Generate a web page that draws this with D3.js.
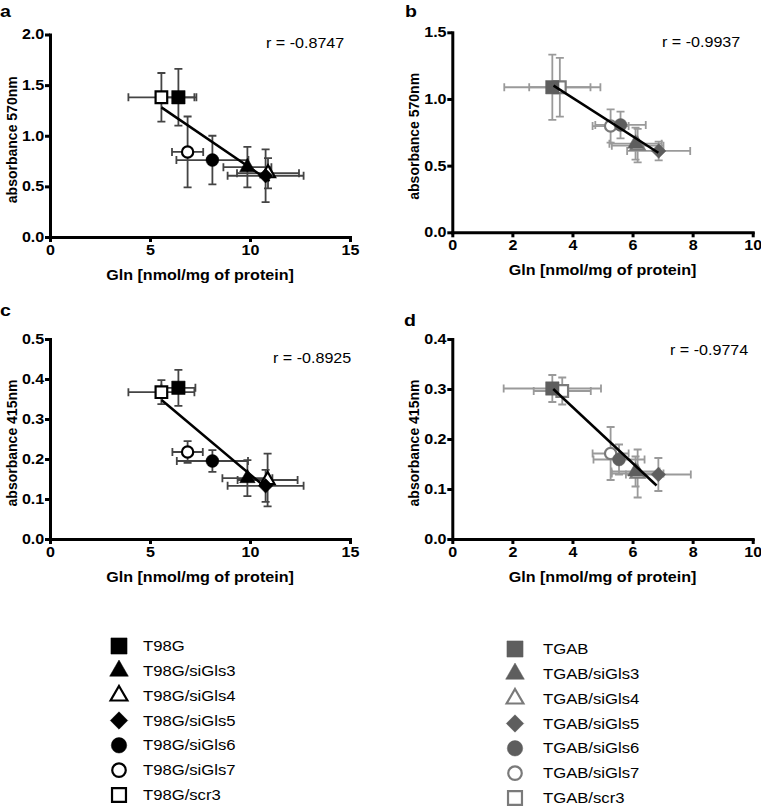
<!DOCTYPE html>
<html>
<head>
<meta charset="utf-8">
<script src="https://cdn.jsdelivr.net/npm/d3@7"></script>
<style>
  body { margin: 0; background: #fff; }
  svg { font-family: "Liberation Sans", Arial, sans-serif; }
  .axis path, .axis line { stroke: #000; stroke-width: 3; }
  .axis text { font-size: 14px; font-weight: bold; fill: #000; }
</style>
</head>
<body>
<script>
// groups, in legend order
const t98gGroups = ['T98G', 'T98G/siGls3', 'T98G/siGls4', 'T98G/siGls5', 'T98G/siGls6', 'T98G/siGls7', 'T98G/scr3'];
const tgabGroups = ['TGAB', 'TGAB/siGls3', 'TGAB/siGls4', 'TGAB/siGls5', 'TGAB/siGls6', 'TGAB/siGls7', 'TGAB/scr3'];

// panel a: T98G, absorbance 570nm
const glnA = [6.42, 9.87, 10.9, 10.78, 8.12, 6.88, 5.57];
const glnErrA = [0.9, 1.2, 1.55, 1.9, 1.8, 0.78, 1.65];
const absA = [1.38, 0.69, 0.63, 0.605, 0.76, 0.84, 1.38];
const absErrA = [0.28, 0.2, 0.15, 0.26, 0.24, 0.35, 0.24];
const fitA = [[5.57, 1.28], [10.98, 0.553]];

// panel b: TGAB, absorbance 570nm
const glnB = [3.33, 6.1, 6.17, 6.87, 5.6, 5.27, 3.58];
const glnErrB = [1.6, 0.87, 0.86, 1.05, 0.84, 0.6, 1.02];
const absB = [1.088, 0.665, 0.65, 0.61, 0.805, 0.797, 1.088];
const absErrB = [0.245, 0.12, 0.125, 0.07, 0.1, 0.125, 0.22];
const fitB = [[3.37, 1.1], [6.86, 0.597]];

// panel c: T98G, absorbance 415nm
const glnC = [6.42, 9.87, 10.88, 10.78, 8.12, 6.88, 5.57];
const glnErrC = [0.85, 1.25, 1.5, 1.9, 1.78, 0.76, 1.65];
const absC = [0.378, 0.152, 0.1475, 0.133, 0.195, 0.2175, 0.367];
const absErrC = [0.045, 0.045, 0.066, 0.04, 0.027, 0.027, 0.03];
const fitC = [[5.58, 0.3475], [10.83, 0.127]];

// panel d: TGAB, absorbance 415nm
const glnD = [3.33, 6.1, 6.17, 6.86, 5.55, 5.27, 3.66];
const glnErrD = [1.62, 0.8, 0.86, 1.08, 0.85, 0.6, 0.95];
const absD = [0.301, 0.135, 0.131, 0.129, 0.159, 0.171, 0.296];
const absErrD = [0.027, 0.03, 0.048, 0.033, 0.03, 0.053, 0.027];
const fitD = [[3.36, 0.3], [6.8, 0.107]];

const rValues = ['-0.8747', '-0.9937', '-0.8925', '-0.9774'];
const xTicksT98G = [0, 5, 10, 15];
const xTicksTGAB = [0, 2, 4, 6, 8, 10];
const yTicks570A = [0, 0.5, 1.0, 1.5, 2.0];
const yTicks570B = [0, 0.5, 1.0, 1.5];
const yTicks415C = [0, 0.1, 0.2, 0.3, 0.4, 0.5];
const yTicks415D = [0, 0.1, 0.2, 0.3, 0.4];

// marker shape per group index
const markers = [
  { type: d3.symbolSquare, open: false, rot: 0, size: 180 },
  { type: d3.symbolTriangle, open: false, rot: 0, size: 105 },
  { type: d3.symbolTriangle, open: true, rot: 0, size: 85 },
  { type: d3.symbolSquare, open: false, rot: 45, size: 105 },
  { type: d3.symbolCircle, open: false, rot: 0, size: 130 },
  { type: d3.symbolCircle, open: true, rot: 0, size: 100 },
  { type: d3.symbolSquare, open: true, rot: 0, size: 135 }
];

const black = { mark: '#000', err: '#444' };
const grey = { mark: '#5e5e5e', err: '#9a9a9a', open: '#7a7a7a' };

// the figure is a little wider than tall in its lettering
const sx = 1.15;

const panels = [
  { letter: 'a', lx: 0, ly: 17, left: 50, right: 350, top: 34.5, bottom: 237, xMax: 15, yMax: 2.0,
    xTicks: xTicksT98G, yTicks: yTicks570A, yLabel: 'absorbance 570nm', gln: glnA, glnErr: glnErrA,
    abs: absA, absErr: absErrA, fit: fitA, r: rValues[0], rx: 266, ry: 48, col: black },
  { letter: 'b', lx: 405, ly: 17, left: 452.3, right: 752.7, top: 32.3, bottom: 232.3, xMax: 10, yMax: 1.5,
    xTicks: xTicksTGAB, yTicks: yTicks570B, yLabel: 'absorbance 570nm', gln: glnB, glnErr: glnErrB,
    abs: absB, absErr: absErrB, fit: fitB, r: rValues[1], rx: 662, ry: 47, col: grey },
  { letter: 'c', lx: 0, ly: 316, left: 50, right: 350, top: 339, bottom: 539, xMax: 15, yMax: 0.5,
    xTicks: xTicksT98G, yTicks: yTicks415C, yLabel: 'absorbance 415nm', gln: glnC, glnErr: glnErrC,
    abs: absC, absErr: absErrC, fit: fitC, r: rValues[2], rx: 273, ry: 363, col: black },
  { letter: 'd', lx: 404, ly: 326, left: 452.3, right: 752.7, top: 339, bottom: 539, xMax: 10, yMax: 0.4,
    xTicks: xTicksTGAB, yTicks: yTicks415D, yLabel: 'absorbance 415nm', gln: glnD, glnErr: glnErrD,
    abs: absD, absErr: absErrD, fit: fitD, r: rValues[3], rx: 670, ry: 355, col: grey }
];

const svg = d3.select('body')
  .append('svg')
    .attr('width', 761)
    .attr('height', 807);

const label = (g, x, y, txt, size, bold, anchor) => g.append('text')
  .attr('transform', `translate(${x},${y}) scale(${sx},1)`)
  .attr('text-anchor', anchor || 'start')
  .attr('font-size', size)
  .attr('font-weight', bold ? 'bold' : 'normal')
  .text(txt);

const drawMarker = (g, m, col, x, y, scale) => {
  const fillCol = m.open ? '#fff' : col.mark;
  const strokeCol = m.open ? (col.open || col.mark) : col.mark;
  g.append('path')
    .attr('d', d3.symbol().type(m.type).size(m.size * scale * scale)())
    .attr('transform', `translate(${x},${y}) rotate(${m.rot})`)
    .attr('fill', fillCol)
    .attr('stroke', strokeCol)
    .attr('stroke-width', m.open ? 2.2 : 0.5);
};

panels.forEach(p => {
  const x = d3.scaleLinear().domain([0, p.xMax]).range([p.left, p.right]);
  const y = d3.scaleLinear().domain([0, p.yMax]).range([p.bottom, p.top]);
  const g = svg.append('g');

  label(g, p.lx, p.ly, p.letter, 17, true);

  g.append('g')
    .attr('class', 'axis')
    .attr('transform', `translate(0, ${p.bottom})`)
    .call(d3.axisBottom(x).tickValues(p.xTicks).tickSize(5).tickSizeOuter(0).tickPadding(3).tickFormat(d3.format('d')))
    .call(a => a.select('.domain').attr('stroke-linecap', 'square'))
    .call(a => a.selectAll('.tick text').attr('transform', `scale(${sx},1)`));

  g.append('g')
    .attr('class', 'axis')
    .attr('transform', `translate(${p.left}, 0)`)
    .call(d3.axisLeft(y).tickValues(p.yTicks).tickSize(5).tickSizeOuter(0).tickPadding(0).tickFormat(d3.format('.1f')))
    .call(a => a.select('.domain').attr('stroke-linecap', 'square'))
    .call(a => a.selectAll('.tick text').attr('transform', `scale(${sx},1)`));

  label(g, (p.left + p.right) / 2, p.bottom + 43, 'Gln [nmol/mg of protein]', 14, true, 'middle');

  g.append('text')
    .attr('transform', `translate(${p.left - 33}, ${(p.top + p.bottom) / 2 + 4}) rotate(-90)`)
    .attr('text-anchor', 'middle')
    .attr('font-size', 14)
    .attr('font-weight', 'bold')
    .text(p.yLabel);

  label(g, p.rx, p.ry, 'r = ' + p.r, 14, false);

  // error bars
  const cap = 4;
  const err = g.append('g')
    .attr('stroke', p.col.err)
    .attr('stroke-width', 1.8)
    .attr('fill', 'none');
  p.gln.forEach((gx, i) => {
    const cx = x(gx), cy = y(p.abs[i]);
    const x0 = x(gx - p.glnErr[i]), x1 = x(gx + p.glnErr[i]);
    const y0 = y(p.abs[i] - p.absErr[i]), y1 = y(p.abs[i] + p.absErr[i]);
    err.append('path').attr('d', `M${x0},${cy}H${x1}M${x0},${cy - cap}V${cy + cap}M${x1},${cy - cap}V${cy + cap}`);
    err.append('path').attr('d', `M${cx},${y0}V${y1}M${cx - cap},${y0}H${cx + cap}M${cx - cap},${y1}H${cx + cap}`);
  });

  // markers, drawn back to front
  [6, 0, 5, 4, 2, 1, 3].forEach(i => {
    drawMarker(g, markers[i], p.col, x(p.gln[i]), y(p.abs[i]), 1);
  });

  g.append('line')
    .attr('x1', x(p.fit[0][0]))
    .attr('y1', y(p.fit[0][1]))
    .attr('x2', x(p.fit[1][0]))
    .attr('y2', y(p.fit[1][1]))
    .attr('stroke', '#000')
    .attr('stroke-width', 2.5);
});

// legends
const legendRow = d3.scaleLinear().domain([0, 6]).range([0, 149]);
const legends = [
  { names: t98gGroups, mx: 119, tx: 143, top: 646, col: black },
  { names: tgabGroups, mx: 515, tx: 543, top: 649, col: grey }
];
legends.forEach(l => {
  const g = svg.append('g');
  l.names.forEach((name, i) => {
    const cy = l.top + legendRow(i);
    drawMarker(g, markers[i], l.col, l.mx, cy, 1.2);
    label(g, l.tx, cy + 5, name, 14.5, false);
  });
});
</script>
</body>
</html>
